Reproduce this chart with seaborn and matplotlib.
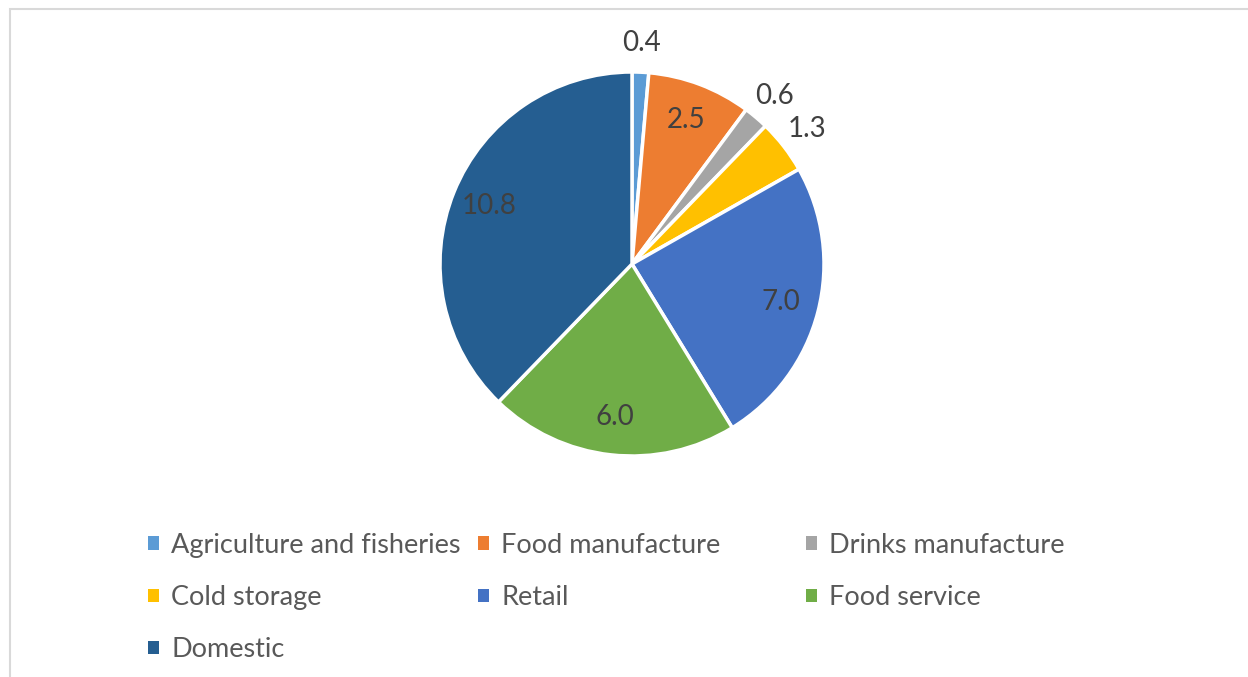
import matplotlib
matplotlib.use("Agg")
import matplotlib.pyplot as plt
import seaborn as sns
from matplotlib.patches import Rectangle
import numpy as np

# Dados do gráfico
categorias = ["Agriculture and fisheries", "Food manufacture", "Drinks manufacture",
              "Cold storage", "Retail", "Food service", "Domestic"]
valores = [0.4, 2.5, 0.6, 1.3, 7.0, 6.0, 10.8]
rotulos = ["0.4", "2.5", "0.6", "1.3", "7.0", "6.0", "10.8"]
cores = ["#5B9BD5", "#ED7D31", "#A5A5A5", "#FFC000", "#4472C4", "#70AD47", "#255E91"]
# rótulo fora da fatia (True) ou dentro (False)
fora = [True, False, True, True, False, False, False]

sns.set_theme(style="white")
plt.rcParams['font.family'] = ['Lato', 'DejaVu Sans']

W, H = 1248, 677
fig = plt.figure(figsize=(W / 100, H / 100), dpi=100)
fig.patch.set_facecolor("white")

# Moldura cinza (cortada à direita e embaixo)
fig.patches.append(Rectangle((9.5 / W, -0.1), 1.2, (H - 8.5) / H + 0.1,
                             transform=fig.transFigure, fill=False,
                             edgecolor="#D9D9D9", linewidth=1.5))

# Eixo da pizza
cx, cy, r = 632, 264, 192
ax = fig.add_axes([(cx - r) / W, (H - cy - r) / H, 2 * r / W, 2 * r / H])
wedges, _ = ax.pie(valores, colors=cores, startangle=90, counterclock=False,
                   radius=1.0, wedgeprops=dict(edgecolor="white", linewidth=2.5))
ax.set_xlim(-1, 1)
ax.set_ylim(-1, 1)
ax.set_aspect("equal")
ax.axis("off")

for w, txt, out in zip(wedges, rotulos, fora):
    ang = np.deg2rad((w.theta1 + w.theta2) / 2)
    d = 1.15 if out else 0.8
    ax.text(d * np.cos(ang), d * np.sin(ang), txt, ha="center", va="center",
            fontsize=20, color="#404040", clip_on=False)

# Legenda em 3 colunas
col_x = [148, 478, 806]
for i in range(3):
    hs = wedges[i::3]
    ls = categorias[i::3]
    leg = fig.legend(hs, ls, loc="upper left",
                     bbox_to_anchor=(col_x[i] / W, 1 - 533 / H),
                     frameon=False, fontsize=19.5, handlelength=0.4, handleheight=0.4,
                     handletextpad=0.45, labelspacing=1.0, borderaxespad=0, borderpad=0,
                     labelcolor="#595959")
    for h in leg.legend_handles:
        h.set_edgecolor("none")

fig.savefig("out.png", dpi=100, facecolor="white")
